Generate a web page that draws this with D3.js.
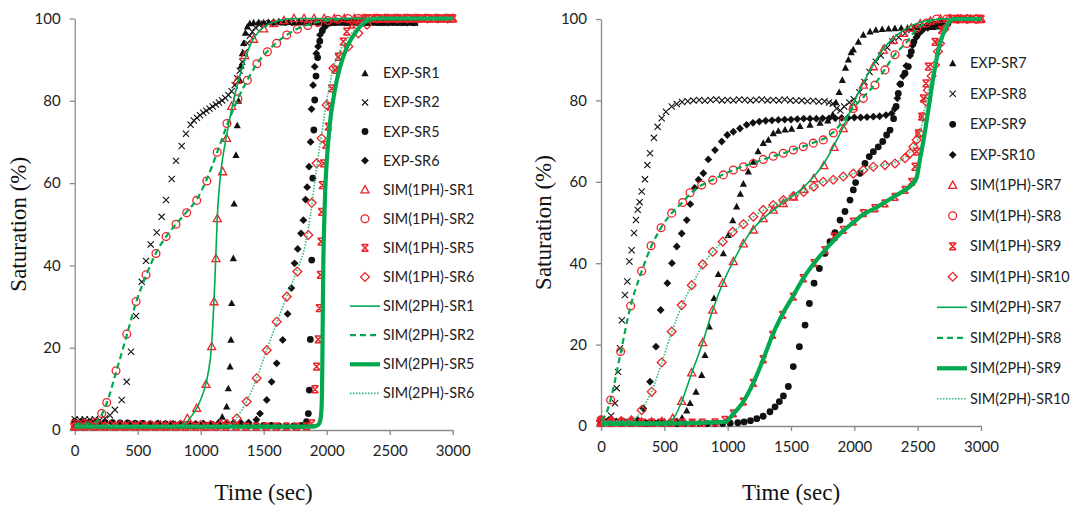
<!DOCTYPE html>
<html><head><meta charset="utf-8">
<script src="https://cdn.jsdelivr.net/npm/d3@7"></script>
<style>body{margin:0;background:#fff}svg{display:block}</style>
</head><body>
<svg id="chart" width="1074" height="506"></svg>
<script>
// ---------------- DATA (time sec, saturation %) ----------------
const xTicks = [0, 500, 1000, 1500, 2000, 2500, 3000];
const yTicks = [0, 20, 40, 60, 80, 100];
const xTitle = "Time (sec)";
const yTitle = "Saturation (%)";

const legendLeft = ["EXP-SR1","EXP-SR2","EXP-SR5","EXP-SR6","SIM(1PH)-SR1","SIM(1PH)-SR2","SIM(1PH)-SR5","SIM(1PH)-SR6","SIM(2PH)-SR1","SIM(2PH)-SR2","SIM(2PH)-SR5","SIM(2PH)-SR6"];
const legendRight = ["EXP-SR7","EXP-SR8","EXP-SR9","EXP-SR10","SIM(1PH)-SR7","SIM(1PH)-SR8","SIM(1PH)-SR9","SIM(1PH)-SR10","SIM(2PH)-SR7","SIM(2PH)-SR8","SIM(2PH)-SR9","SIM(2PH)-SR10"];

// ----- left panel -----
const expSR1 = [[0,1.3],[50,1.3],[100,1.2],[150,1.3],[200,1.2],[250,1.2],[300,1.3],[350,1.2],[400,1.2],[450,1.1],[500,1.2],[550,1.1],[600,1.1],[650,1.1],[700,1.0],[750,1.1],[800,1.0],[850,1.1],[900,1.0],[950,1.0],[1000,1.1],[1050,1.2],[1100,1.4],[1140,1.9],[1171,3.2],[1206,5.7],[1219,10.1],[1233,15.4],[1240,21.9],[1246,30.8],[1259,41.7],[1265,55],[1280,66.8],[1290,74],[1300,80],[1311,85],[1320,88.5],[1330,91.5],[1340,94],[1355,96.5],[1370,98],[1390,98.8],[1420,99],[1460,99.1],[1500,99],[1540,99.1],[1580,99],[1620,99.2],[1660,99],[1700,99.1],[1740,99],[1780,99.1],[1820,99],[1860,99],[1900,99.1],[1940,99],[1980,99.1],[2020,99],[2060,99.1],[2100,99],[2140,99.1],[2180,99],[2220,99.1],[2260,99],[2300,99],[2340,99.1],[2380,99],[2420,99],[2460,99.1],[2500,99],[2540,99],[2580,99.1],[2620,99],[2660,99],[2700,99]];
const expSR2 = [[0,2.6],[40,2.5],[80,2.6],[120,2.5],[160,2.6],[200,2.4],[240,2.8],[280,3.6],[319,4.9],[373,7.3],[413,11.7],[447,19],[487,27.7],[532,36],[566,41.1],[603,45.1],[651,48],[690,51.8],[725,55.9],[770,61],[804,65.4],[849,69],[883,72],[920,74.2],[945,75.2],[970,75.9],[995,76.5],[1020,77.1],[1045,77.6],[1070,78.1],[1095,78.6],[1120,79.1],[1145,79.6],[1170,80.1],[1195,80.7],[1220,81.4],[1245,82.3],[1270,83.8],[1290,85.5],[1310,87.3],[1330,89.5],[1350,91.8],[1370,94],[1390,95.8],[1410,96.8],[1435,97.8],[1465,98.4],[1500,98.8],[1550,99],[1600,99.2],[1650,99],[1700,99.1],[1750,99],[1800,99.2],[1850,99],[1900,99.1],[1950,99],[2000,99.2],[2050,99],[2100,99.1],[2150,99],[2200,99.2],[2250,99],[2300,99.1],[2350,99],[2400,99.1],[2450,99],[2500,99.1],[2550,99],[2600,99.1],[2650,99],[2700,99]];
const expSR5 = [[0,2.0],[60,2.0],[120,1.9],[180,1.9],[240,1.8],[300,1.8],[360,1.7],[420,1.7],[480,1.6],[540,1.6],[600,1.5],[660,1.5],[720,1.5],[780,1.4],[840,1.4],[900,1.4],[960,1.3],[1020,1.3],[1080,1.3],[1140,1.2],[1200,1.2],[1260,1.2],[1320,1.2],[1380,1.1],[1440,1.1],[1500,1.1],[1560,1.1],[1620,1.0],[1680,1.0],[1740,1.0],[1800,1.1],[1840,2],[1854,4],[1862,9.7],[1870,22],[1881,41.3],[1890,61.2],[1898,72.9],[1905,80.2],[1915,86],[1928,90.5],[1945,94.5],[1965,97],[1990,98.3],[2020,98.9],[2060,99],[2110,99.1],[2160,99],[2210,99.1],[2260,99],[2310,99],[2360,99.1],[2410,99],[2460,99],[2510,99.1],[2560,99],[2610,99],[2660,99.1],[2700,99]];
const expSR6 = [[0,1.7],[60,1.6],[120,1.7],[180,1.6],[240,1.6],[300,1.7],[360,1.6],[420,1.5],[480,1.6],[540,1.5],[600,1.5],[660,1.6],[720,1.5],[780,1.5],[840,1.6],[900,1.5],[960,1.5],[1020,1.6],[1080,1.5],[1140,1.6],[1200,1.6],[1260,1.7],[1320,1.7],[1380,1.8],[1442,2.5],[1471,4],[1524,7.3],[1563,11.7],[1603,16.2],[1651,21.9],[1690,28.2],[1720,34.5],[1745,40.5],[1770,44],[1796,47.8],[1815,51],[1832,56],[1845,59],[1860,64],[1872,70],[1880,78],[1892,83.8],[1905,88.3],[1918,91.5],[1932,93.2],[1947,96],[1973,97.6],[2000,98.5],[2040,99],[2090,99.1],[2140,99],[2190,99],[2240,99.1],[2290,99],[2340,99],[2390,99.1],[2440,99],[2490,99],[2540,99.1],[2590,99],[2640,99],[2690,99]];
const sim1SR1 = [[0,1],[80,1],[160,1],[240,1],[320,1],[400,1],[480,1],[560,1],[640,1],[720,1],[800,1.1],[894,2.8],[968,5.3],[1042,11.1],[1087,20.3],[1106,31.2],[1121,41.7],[1132,51.4],[1174,62.8],[1206,70.9],[1246,78.7],[1290,85],[1350,91],[1420,95],[1500,97.5],[1580,98.8],[1660,99.5],[1740,100],[1820,100],[1900,100],[1980,100],[2060,100],[2140,100],[2220,100],[2300,100],[2380,100],[2460,100],[2540,100],[2620,100],[2700,100],[2780,100],[2860,100],[2940,100],[3000,100]];
const sim1SR2 = [[0,1.5],[80,1.6],[160,1.8],[214,4],[254,6.7],[328,14.4],[413,23.3],[487,31.2],[566,37.7],[645,42.9],[725,47],[804,50],[889,52.8],[968,55.8],[1049,60.5],[1131,67.5],[1208,74.5],[1295,80.5],[1370,85],[1446,89],[1529,91.9],[1603,94],[1683,96],[1767,97.4],[1850,98.3],[1930,99],[2010,99.5],[2090,99.8],[2170,100],[2250,100],[2330,100],[2410,100],[2490,100],[2570,100],[2650,100],[2730,100],[2810,100],[2890,100],[2970,100]];
const sim1SR5 = [[0,0.8],[80,0.8],[160,0.8],[240,0.8],[320,0.8],[400,0.8],[480,0.8],[560,0.8],[640,0.8],[720,0.8],[800,0.8],[880,0.8],[960,0.8],[1040,0.8],[1120,0.8],[1200,0.8],[1280,0.8],[1360,0.8],[1440,0.8],[1520,0.8],[1600,0.8],[1680,0.8],[1760,0.8],[1840,0.9],[1881,1.6],[1907,9.9],[1920,15.4],[1933,22],[1942,29.6],[1950,37.7],[1955,45.8],[1960,53],[1965,59.5],[1975,64.8],[1992,69.3],[2013,73.7],[2026,78.6],[2040,83],[2066,87.5],[2092,90.7],[2132,94.4],[2159,96.8],[2200,98.5],[2250,99.5],[2300,100],[2350,100],[2400,100],[2450,100],[2500,100],[2550,100],[2600,100],[2650,100],[2700,100],[2750,100],[2800,100],[2850,100],[2900,100],[2950,100],[3000,100]];
const sim1SR6 = [[40,1.2],[120,1.2],[200,1.2],[280,1.2],[360,1.2],[440,1.2],[520,1.2],[600,1.2],[680,1.2],[760,1.2],[840,1.2],[920,1.2],[1000,1.2],[1080,1.2],[1160,1.3],[1210,1.5],[1286,2.8],[1365,6.9],[1444,12.6],[1524,19.4],[1603,26.3],[1683,32.4],[1767,38.5],[1854,47.4],[1881,55.2],[1920,64.8],[1960,70.9],[2000,79],[2053,87.9],[2110,91],[2172,93.2],[2251,96.4],[2320,98.5],[2400,100],[2480,100],[2560,100],[2640,100],[2720,100],[2800,100],[2880,100],[2960,100]];
const sim2SR1 = [[0,1],[400,1],[800,1],[870,1.5],[930,3.5],[980,6],[1030,10],[1060,14],[1085,20],[1100,28],[1112,36],[1122,44],[1132,52],[1145,58],[1165,64],[1190,69],[1220,74],[1260,80],[1300,85],[1350,90],[1400,94],[1460,96.8],[1530,98.5],[1620,99.5],[1750,100],[3000,100]];
const sim2SR2 = [[0,1.5],[150,1.6],[200,3],[254,6.5],[328,14],[413,23],[487,31],[566,37.5],[645,43],[725,47],[804,50],[889,53],[968,56],[1049,61],[1131,67.5],[1208,74],[1295,80.5],[1370,85],[1446,89],[1529,92],[1603,94.2],[1683,96],[1767,97.5],[1850,98.5],[1950,99.3],[2100,99.8],[2250,100],[3000,100]];
const sim2SR5 = [[0,0.8],[1000,0.8],[1880,0.8],[1930,1.2],[1950,2.5],[1960,6],[1965,15],[1969,28],[1973,40],[1980,50],[1988,58],[2000,65],[2015,71],[2035,77],[2053,80.5],[2080,85],[2109,88.5],[2160,93],[2238,97],[2300,99],[2400,100],[3000,100]];
const sim2SR6 = [[0,1],[1200,1],[1250,1.6],[1286,3],[1365,7],[1444,12.5],[1524,19.5],[1603,26],[1683,32.5],[1767,39],[1830,45],[1870,52],[1900,59],[1930,66],[1960,72],[2000,80],[2053,88],[2120,93],[2200,96.5],[2280,98.8],[2350,100],[3000,100]];

// ----- right panel -----
const expSR7 = [[0,1.0],[50,1.0],[100,1.1],[150,1.0],[200,1.0],[250,1.1],[300,1.0],[350,1.0],[400,1.1],[450,1.0],[500,1.1],[550,1.1],[600,1.2],[640,2],[677,3.8],[703,5.6],[750,8.4],[795,12.5],[821,17.4],[855,24.4],[892,31.4],[926,37.3],[966,42.4],[1005,46.9],[1040,50.5],[1071,53.9],[1100,57],[1124,59.5],[1163,62.5],[1203,64.9],[1240,67.5],[1281,69.5],[1321,70.3],[1360,71.9],[1400,72.5],[1453,72.8],[1505,73],[1571,73.7],[1650,74],[1729,74.5],[1790,75],[1830,76.5],[1855,79.5],[1880,82],[1905,85],[1930,88],[1953,90],[1975,91.8],[1992,92.5],[2032,94.4],[2071,96.1],[2124,96.9],[2170,97.3],[2220,97.5],[2270,97.6],[2320,97.7],[2370,97.8],[2420,97.8],[2470,97.9],[2520,98],[2570,98],[2620,98],[2670,98.1],[2720,98.1]];
const expSR8 = [[0,1.4],[40,1.6],[80,2.5],[111,5.6],[124,9.3],[135,13.3],[150,19.1],[165,26],[189,32.2],[208,35.5],[224,40.4],[242,43.2],[261,47.4],[276,50.6],[290,53.1],[305,55],[321,57.6],[347,60.6],[366,64.1],[387,67],[418,70.8],[447,73.5],[479,75.6],[513,77.2],[558,78.5],[598,79.1],[640,79.6],[685,79.8],[730,80],[775,80.1],[820,79.9],[865,80.1],[910,80.2],[955,80],[1000,80.1],[1045,80],[1090,80.2],[1135,80.1],[1180,80],[1225,80.1],[1270,80.2],[1315,80],[1360,80.1],[1405,80],[1450,80.2],[1495,80],[1540,79.9],[1585,80],[1630,79.8],[1675,79.9],[1720,79.7],[1765,79.8],[1800,79.5],[1830,79.2],[1860,78],[1890,77.5],[1920,78.5],[1960,79.5],[1995,80.3],[2040,82],[2080,84.5],[2120,87],[2170,89.5],[2210,91],[2260,93],[2300,94.5],[2350,95.5],[2400,96.5],[2450,97.3],[2500,98],[2550,98.5],[2600,98.8],[2650,99]];
const expSR9 = [[0,1.0],[60,0.9],[120,0.9],[180,0.8],[240,0.8],[300,0.8],[360,0.7],[420,0.7],[480,0.7],[540,0.7],[600,0.6],[660,0.6],[720,0.6],[780,0.6],[840,0.6],[900,0.6],[960,0.6],[1020,0.7],[1080,0.8],[1130,1],[1180,1.3],[1230,1.8],[1280,2.4],[1334,3.5],[1374,4.7],[1408,6],[1440,7.4],[1479,9.7],[1518,14.6],[1566,19.5],[1611,24.8],[1645,30.1],[1682,35.1],[1724,38.7],[1768,42.4],[1808,45.3],[1847,47.5],[1887,50.6],[1926,52.7],[1966,55.5],[1992,58],[2010,59.8],[2045,62.1],[2084,64.5],[2118,66.2],[2150,67.4],[2189,68.6],[2224,69.9],[2255,71.5],[2282,72.7],[2310,75.5],[2330,78.5],[2347,81.7],[2365,84],[2400,86.7],[2426,88.3],[2450,92],[2470,94.4],[2500,96.3],[2540,97.6],[2590,98.3],[2640,98.7],[2690,99],[2740,99]];
const expSR10 = [[0,1.2],[60,1.2],[120,1.1],[180,1.1],[240,1.2],[290,1.5],[334,4.3],[387,10.9],[434,19.5],[471,28.5],[524,35.1],[560,40],[598,44.1],[637,47.3],[677,50.6],[705,54.5],[740,58.5],[770,60.5],[808,62.1],[847,65.5],[900,67.8],[953,69.9],[997,71.5],[1045,72.3],[1097,73.1],[1150,74],[1200,74.5],[1250,74.8],[1300,75],[1350,75.1],[1400,75.2],[1450,75.3],[1500,75.3],[1550,75.4],[1600,75.5],[1650,75.5],[1700,75.5],[1750,75.6],[1800,75.6],[1850,75.6],[1900,75.7],[1950,75.7],[2000,75.8],[2050,75.8],[2100,75.9],[2150,76],[2200,76.1],[2250,76.4],[2295,76.8],[2320,78],[2340,80.5],[2360,84],[2385,86],[2410,88.5],[2440,91],[2460,93.5],[2490,95.5],[2530,97],[2580,97.8],[2630,98.2],[2680,98.4],[2730,98.5]];
const sim1SR7 = [[0,1],[80,1],[160,1],[240,1],[320,1],[400,1],[480,1.1],[566,1.9],[637,6.1],[716,13.1],[803,20.5],[882,28.5],[961,35.1],[1045,40.4],[1124,44.8],[1203,48.2],[1281,51],[1360,53.1],[1439,54.7],[1520,56.3],[1600,58.2],[1680,60.8],[1760,64],[1840,68.5],[1913,73.1],[1990,78.5],[2071,83.8],[2150,88.3],[2229,92.4],[2308,94.8],[2387,96.5],[2450,97.8],[2520,98.8],[2600,99.5],[2680,100],[2760,100],[2840,100],[2920,100],[3000,100]];
const sim1SR8 = [[0,1.5],[76,6.4],[155,18.3],[234,29.5],[321,38.1],[395,44.3],[474,48.7],[558,52.3],[645,54.9],[703,57.3],[795,59.2],[882,60.4],[966,61.7],[1045,62.9],[1124,63.7],[1203,64.5],[1281,65.5],[1360,66.3],[1439,67],[1518,67.8],[1597,68.6],[1676,69.5],[1755,70.3],[1834,72],[1913,74.8],[1992,78],[2071,80.5],[2163,83.8],[2242,87.5],[2321,91.2],[2413,94],[2492,97.7],[2571,99],[2650,100],[2730,100],[2810,100],[2890,100],[2970,100]];
const sim1SR9 = [[0,0.8],[80,0.8],[160,0.8],[240,0.8],[320,0.8],[400,0.8],[480,0.8],[560,0.8],[640,0.8],[720,0.8],[800,0.8],[900,0.9],[979,1.5],[1045,3.1],[1124,6],[1203,10.6],[1281,16.4],[1355,22.4],[1434,27.3],[1518,31.8],[1597,36.3],[1682,40],[1768,43.2],[1840,46.5],[1913,48.2],[1992,50.2],[2071,52.3],[2163,53.5],[2242,54.7],[2321,56.3],[2400,58],[2453,60],[2479,63.7],[2492,67.4],[2505,71.9],[2532,76],[2545,80.5],[2566,84.2],[2584,88.3],[2637,94.4],[2690,97.3],[2730,99],[2780,100],[2840,100],[2900,100],[2960,100],[3000,100]];
const sim1SR10 = [[0,1.2],[80,1.2],[160,1.2],[240,1.4],[321,3.9],[400,8.4],[479,15.6],[558,23.2],[637,29.7],[716,34.6],[803,39.7],[882,42.8],[961,45.3],[1040,47.7],[1124,49.6],[1203,51.4],[1281,53.1],[1360,54.3],[1440,55.5],[1520,56.5],[1600,57.5],[1680,58.8],[1755,60],[1834,60.5],[1913,61.3],[1992,62],[2071,62.9],[2150,63.7],[2242,64.1],[2321,64.5],[2400,65.8],[2440,67],[2466,68.6],[2492,70.3],[2518,71.9],[2545,76],[2566,79.7],[2580,82.5],[2610,86],[2637,88.7],[2660,92],[2677,94],[2710,97.5],[2750,100],[2820,100],[2890,100],[2960,100]];
const sim2SR7 = [[0,1],[500,1],[560,1.5],[637,6],[716,13],[803,20.5],[882,28.5],[961,35],[1045,40.5],[1124,45],[1203,48.5],[1281,51],[1360,53],[1439,55],[1520,56.7],[1600,58.7],[1680,61.3],[1760,64.5],[1840,69],[1913,73.5],[1990,79],[2071,84.3],[2150,88.8],[2229,92.7],[2308,95.3],[2387,97.2],[2460,98.5],[2540,99.4],[2620,99.8],[2700,100],[3000,100]];
const sim2SR8 = [[0,1.5],[40,3],[76,6.5],[155,18],[234,29.5],[321,38],[395,44],[474,48.7],[558,52.3],[645,55],[720,57.5],[795,59.2],[882,60.5],[966,61.8],[1045,62.9],[1124,63.8],[1203,64.6],[1281,65.5],[1360,66.3],[1439,67],[1518,67.9],[1597,68.7],[1676,69.6],[1755,70.5],[1834,72.2],[1913,75],[1992,78.2],[2071,80.8],[2163,84],[2242,87.7],[2321,91.3],[2413,94.3],[2492,97.5],[2571,99],[2650,100],[3000,100]];
const sim2SR9 = [[0,0.5],[500,0.6],[980,1],[1045,3],[1124,6],[1203,10.6],[1281,16.4],[1355,22.4],[1434,27.5],[1518,32],[1597,36.3],[1682,40],[1768,43.2],[1850,46],[1913,48],[1992,50],[2071,52],[2163,53.5],[2242,55],[2321,56.5],[2400,58],[2460,59.5],[2492,61],[2515,65],[2545,70],[2584,77.6],[2624,85.8],[2663,92.4],[2703,96.5],[2742,99],[2780,100],[3000,100]];
const sim2SR10 = [[0,1.2],[240,1.3],[290,2.5],[321,4],[400,8.5],[479,15.5],[558,23],[637,29.5],[716,34.5],[803,39.5],[882,42.8],[961,45.3],[1040,47.7],[1124,49.6],[1203,51.4],[1281,53],[1360,54.3],[1440,55.5],[1520,56.5],[1600,57.5],[1680,58.8],[1755,60],[1834,60.6],[1913,61.3],[1992,62],[2071,62.9],[2150,63.7],[2242,64.2],[2321,64.8],[2400,66],[2466,68.5],[2518,72],[2545,76],[2566,79.5],[2610,86],[2660,92],[2710,97.5],[2750,100],[3000,100]];

// ---------------- STYLE / LAYOUT ----------------
const BLACK = "#111", RED = "#ee2128", GREEN = "#00a94f", GREEN_DOT = "#33b97a";
const SANS = "Lato, 'Open Sans', 'Liberation Sans', sans-serif";
const SERIF = "'Liberation Serif', 'DejaVu Serif', serif";

const markerStyles = {
  triFill:   {type:"tri", fill:BLACK, stroke:"none", size:3.8},
  cross:     {type:"x", stroke:BLACK, size:3.1},
  circFill:  {type:"circle", fill:BLACK, stroke:"none", size:3.4},
  diaFill:   {type:"diamond", fill:BLACK, stroke:"none", size:3.9},
  triOpen:   {type:"tri", fill:"none", stroke:RED, size:4.2},
  circOpen:  {type:"circle", fill:"none", stroke:RED, size:3.9},
  star:      {type:"star", stroke:RED, size:3.4},
  diaOpen:   {type:"diamond", fill:"none", stroke:RED, size:4.4}
};
const lineStyles = {
  thin:   {stroke:GREEN, width:1.6, dash:null},
  dashed: {stroke:GREEN, width:2.2, dash:"6,4"},
  thick:  {stroke:GREEN, width:4.2, dash:null},
  dotted: {stroke:GREEN_DOT, width:1.6, dash:"1.5,1.5"}
};

const panels = [
  { left:74.7, right:452.7, bottom:430, top:18.5,
    markers:[[expSR1,"triFill"],[expSR2,"cross"],[expSR5,"circFill"],[expSR6,"diaFill"],
             [sim1SR1,"triOpen"],[sim1SR2,"circOpen"],[sim1SR5,"star"],[sim1SR6,"diaOpen"]],
    lines:[[sim2SR1,"thin"],[sim2SR2,"dashed"],[sim2SR5,"thick"],[sim2SR6,"dotted"]],
    legend:legendLeft, legMarkX:365, legLine:[350,380], legTextX:383, legY0:73.3, legDy:29.1,
    yTitleX:18 },
  { left:601, right:981, bottom:426, top:19,
    markers:[[expSR7,"triFill"],[expSR8,"cross"],[expSR9,"circFill"],[expSR10,"diaFill"],
             [sim1SR7,"triOpen"],[sim1SR8,"circOpen"],[sim1SR9,"star"],[sim1SR10,"diaOpen"]],
    lines:[[sim2SR7,"thin"],[sim2SR8,"dashed"],[sim2SR9,"thick"],[sim2SR10,"dotted"]],
    legend:legendRight, legMarkX:952.7, legLine:[937,967], legTextX:970, legY0:63.3, legDy:30.5,
    yTitleX:543 }
];

const svg = d3.select("#chart");

function drawMarker(g, cx, cy, st) {
  const s = st.size;
  if (st.type === "circle") {
    g.append("circle").attr("cx", cx).attr("cy", cy).attr("r", s)
      .attr("fill", st.fill).attr("stroke", st.stroke).attr("stroke-width", 1.3);
  } else if (st.type === "tri") {
    const p = d3.path();
    p.moveTo(cx, cy - s); p.lineTo(cx + s * 0.95, cy + s * 0.75); p.lineTo(cx - s * 0.95, cy + s * 0.75); p.closePath();
    g.append("path").attr("d", p.toString()).attr("fill", st.fill).attr("stroke", st.stroke).attr("stroke-width", 1.3);
  } else if (st.type === "diamond") {
    const p = d3.path();
    p.moveTo(cx, cy - s); p.lineTo(cx + s, cy); p.lineTo(cx, cy + s); p.lineTo(cx - s, cy); p.closePath();
    g.append("path").attr("d", p.toString()).attr("fill", st.fill).attr("stroke", st.stroke).attr("stroke-width", 1.3);
  } else if (st.type === "x") {
    const p = d3.path();
    p.moveTo(cx - s, cy - s); p.lineTo(cx + s, cy + s); p.moveTo(cx + s, cy - s); p.lineTo(cx - s, cy + s);
    g.append("path").attr("d", p.toString()).attr("fill", "none").attr("stroke", st.stroke).attr("stroke-width", 1.1);
  } else if (st.type === "star") {
    const p = d3.path();
    p.moveTo(cx - s, cy - s); p.lineTo(cx + s, cy + s); p.moveTo(cx + s, cy - s); p.lineTo(cx - s, cy + s);
    p.moveTo(cx - s, cy - s); p.lineTo(cx + s, cy - s); p.moveTo(cx - s, cy + s); p.lineTo(cx + s, cy + s);
    g.append("path").attr("d", p.toString()).attr("fill", "none").attr("stroke", st.stroke).attr("stroke-width", 1.5);
  }
}

panels.forEach(P => {
  const x = d3.scaleLinear().domain([0, 3000]).range([P.left, P.right]);
  const y = d3.scaleLinear().domain([0, 100]).range([P.bottom, P.top]);
  const g = svg.append("g");

  // axes
  const ax = g.append("g").attr("transform", `translate(0,${P.bottom})`)
    .call(d3.axisBottom(x).tickValues(xTicks).tickFormat(d3.format("d")).tickSize(5).tickSizeOuter(0).tickPadding(10));
  const ay = g.append("g").attr("transform", `translate(${P.left},0)`)
    .call(d3.axisLeft(y).tickValues(yTicks).tickFormat(d3.format("d")).tickSize(5).tickSizeOuter(0).tickPadding(9));
  [ax, ay].forEach(a => {
    a.select(".domain").attr("stroke", "#8a8a8a").attr("stroke-width", 1.3);
    a.selectAll(".tick line").attr("stroke", "#8a8a8a").attr("stroke-width", 1.3);
    a.selectAll(".tick text").attr("font-family", SANS).attr("font-size", 15).attr("fill", "#222");
  });

  // markers
  const mg = g.append("g");
  P.markers.forEach(([data, key]) => {
    const st = markerStyles[key];
    const sg = mg.append("g");
    data.forEach(d => drawMarker(sg, x(d[0]), y(d[1]), st));
  });

  // lines
  P.lines.forEach(([data, key]) => {
    const ls = lineStyles[key];
    g.append("path").datum(data)
      .attr("d", d3.line().x(d => x(d[0])).y(d => y(d[1])).curve(d3.curveMonotoneX))
      .attr("fill", "none").attr("stroke", ls.stroke).attr("stroke-width", ls.width)
      .attr("stroke-dasharray", ls.dash);
  });

  // legend
  const lg = g.append("g");
  const keys = P.markers.map(m => m[1]).concat(P.lines.map(l => l[1]));
  P.legend.forEach((label, i) => {
    const ly = P.legY0 + i * P.legDy;
    const key = keys[i];
    if (i < 8) {
      drawMarker(lg, P.legMarkX, ly, markerStyles[key]);
    } else {
      const ls = lineStyles[key];
      lg.append("line").attr("x1", P.legLine[0]).attr("x2", P.legLine[1]).attr("y1", ly).attr("y2", ly)
        .attr("stroke", ls.stroke).attr("stroke-width", ls.width).attr("stroke-dasharray", ls.dash);
    }
    lg.append("text").attr("x", P.legTextX).attr("y", ly).attr("dy", "0.35em")
      .attr("font-family", SANS).attr("font-size", 14.4).attr("fill", "#222").text(label);
  });

  // titles
  g.append("text").attr("x", (P.left + P.right) / 2).attr("y", 500)
    .attr("text-anchor", "middle").attr("font-family", SERIF).attr("font-size", 23).attr("fill", "#111").text(xTitle);
  g.append("text").attr("transform", `translate(${P.yTitleX},${(P.top + P.bottom) / 2}) rotate(-90)`)
    .attr("text-anchor", "middle").attr("dy", "0.35em").attr("font-family", SERIF).attr("font-size", 23).attr("fill", "#111").text(yTitle);
});
</script>
</body></html>
